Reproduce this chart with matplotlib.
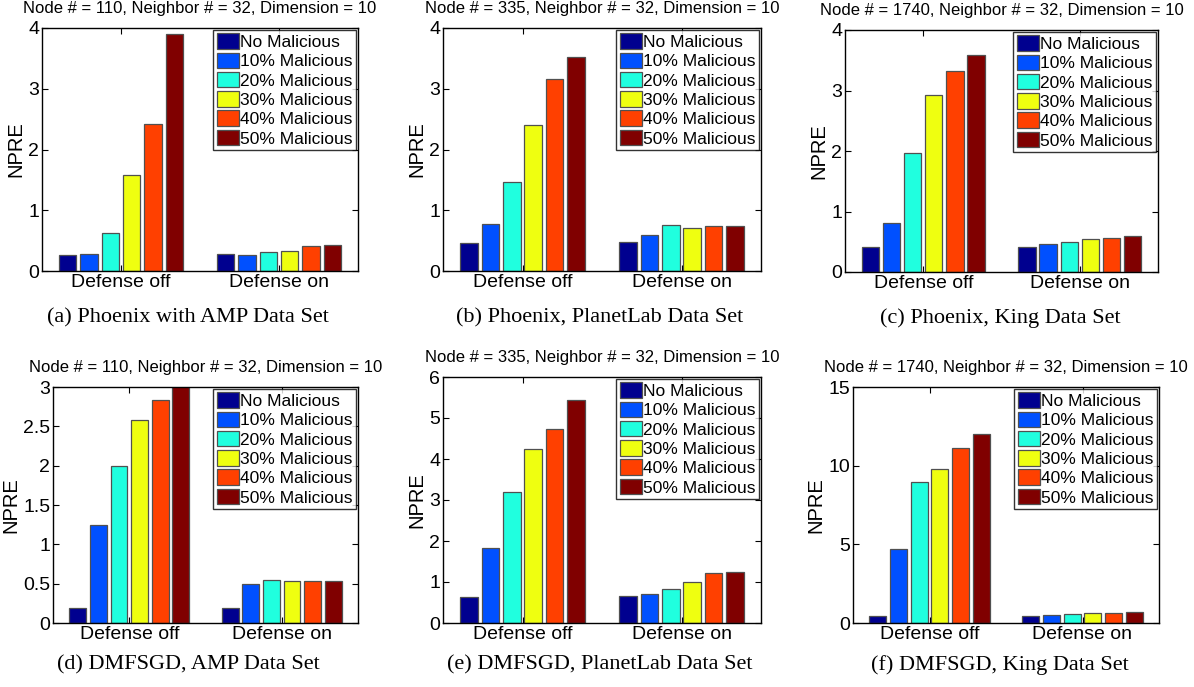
import matplotlib
matplotlib.use("Agg")
import matplotlib.pyplot as plt
import numpy as np

plt.rcParams['font.family'] = ['Liberation Sans', 'DejaVu Sans']

groups = ['Defense off', 'Defense on']
series = ['No Malicious', '10% Malicious', '20% Malicious',
          '30% Malicious', '40% Malicious', '50% Malicious']
colors = ['#00008f', '#0050ff', '#20ffdf', '#efff10', '#ff4000', '#800000']

# NPRE per panel: rows = groups (off, on), cols = series
phoenix_amp = [[0.26, 0.28, 0.63, 1.58, 2.42, 3.90],
               [0.28, 0.26, 0.31, 0.33, 0.41, 0.43]]
phoenix_planetlab = [[0.46, 0.77, 1.46, 2.41, 3.16, 3.53],
                     [0.48, 0.60, 0.75, 0.70, 0.74, 0.74]]
phoenix_king = [[0.42, 0.81, 1.96, 2.93, 3.33, 3.59],
                [0.41, 0.47, 0.49, 0.54, 0.57, 0.59]]
dmfsgd_amp = [[0.19, 1.25, 2.00, 2.58, 2.83, 3.05],
              [0.19, 0.49, 0.55, 0.54, 0.54, 0.53]]
dmfsgd_planetlab = [[0.64, 1.82, 3.19, 4.24, 4.73, 5.43],
                    [0.65, 0.71, 0.84, 0.99, 1.23, 1.24]]
dmfsgd_king = [[0.47, 4.70, 8.96, 9.79, 11.10, 12.01],
               [0.47, 0.53, 0.59, 0.66, 0.66, 0.72]]

titles = ['Node # = 110, Neighbor # = 32, Dimension = 10',
          'Node # = 335, Neighbor # = 32, Dimension = 10',
          'Node # = 1740, Neighbor # = 32, Dimension = 10'] * 2
captions = ['(a) Phoenix with AMP Data Set', '(b) Phoenix, PlanetLab Data Set',
            '(c) Phoenix, King Data Set', '(d) DMFSGD, AMP Data Set',
            '(e) DMFSGD, PlanetLab Data Set', '(f) DMFSGD, King Data Set']
ylims = [4, 4, 4, 3, 6, 15]
yticks = [[0, 1, 2, 3, 4], [0, 1, 2, 3, 4], [0, 1, 2, 3, 4],
          [0, 0.5, 1, 1.5, 2, 2.5, 3], [0, 1, 2, 3, 4, 5, 6], [0, 5, 10, 15]]
datasets = [phoenix_amp, phoenix_planetlab, phoenix_king,
            dmfsgd_amp, dmfsgd_planetlab, dmfsgd_king]

W, H = 1194, 687
# pixel boxes (left, top, right, bottom)
boxes = [(42, 28, 358, 271), (443, 28, 761, 271), (845, 30, 1158, 272),
         (53, 387, 358, 623), (443, 377, 761, 623), (853, 387, 1159, 623)]
caption_pos = [(188, 318), (600, 318), (1000, 318),
               (188, 665), (600, 665), (1000, 665)]

fig = plt.figure(figsize=(W / 100, H / 100), dpi=100)

x = np.arange(1, len(groups) + 1)
pitch = 0.135
bw = 0.11
for k in range(6):
    l, t, r, b = boxes[k]
    ax = fig.add_axes([l / W, 1 - b / H, (r - l) / W, (b - t) / H])
    vals = np.array(datasets[k])
    for i in range(len(series)):
        ax.bar(x + (i - 2.5) * pitch, vals[:, i], bw, color=colors[i],
               edgecolor='#505050', linewidth=0.9, label=series[i])
    ax.set_xlim(0.5, 2.5)
    ax.set_ylim(0, ylims[k])
    ax.set_yticks(yticks[k])
    ax.set_yticklabels([('%g' % v) for v in yticks[k]])
    ax.set_xticks(x)
    ax.set_xticklabels(groups, fontsize=14.5)
    ax.tick_params(direction='in', right=True, top=True, labelsize=14,
                   length=4, width=0.8, pad=2)
    ax.set_ylabel('NPRE', fontsize=14.5, labelpad=2)
    ax.set_title(titles[k], fontsize=12, pad=10.5)
    for s in ax.spines.values():
        s.set_linewidth(1.0)
    leg = ax.legend(loc='upper right', fontsize=12.5, frameon=True, fancybox=False,
                    edgecolor='black', handlelength=1.27, handleheight=1.0,
                    handletextpad=0.08, labelspacing=0.15, borderpad=0.2,
                    borderaxespad=0.1)
    leg.get_frame().set_linewidth(1.0)
    cx, cy = caption_pos[k]
    fig.text(cx / W, 1 - cy / H, captions[k], ha='center', va='center',
             fontsize=16, family='Liberation Serif')

fig.savefig('out.png', dpi=100)
